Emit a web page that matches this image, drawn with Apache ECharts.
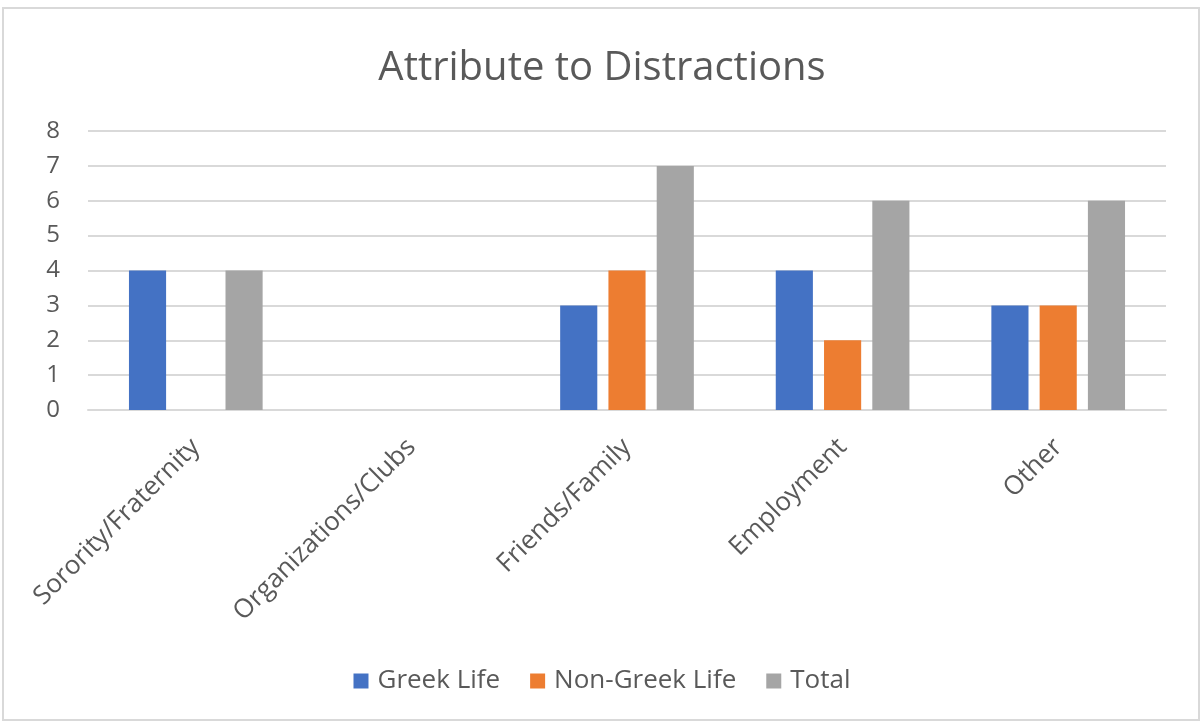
<!DOCTYPE html>
<html>
<head>
<meta charset="utf-8">
<script src="https://cdn.jsdelivr.net/npm/echarts@6/dist/echarts.min.js"></script>
<style>
  html, body { margin: 0; padding: 0; background: #fff; }
  #main { width: 1204px; height: 724px; }
</style>
</head>
<body>
<div id="main"></div>
<script>
var categories = ['Sorority/Fraternity', 'Organizations/Clubs', 'Friends/Family', 'Employment', 'Other'];
var greekLife = [4, 0, 3, 4, 3];
var nonGreekLife = [0, 0, 4, 2, 3];
var total = [4, 0, 7, 6, 6];
var yTicks = [0, 1, 2, 3, 4, 5, 6, 7, 8];

var textColor = '#595959';
var fontName = '"Open Sans", "Noto Sans", sans-serif';

var myChart = echarts.init(document.getElementById('main'));

var option = {
    backgroundColor: '#fff',
    textStyle: { fontFamily: fontName },
    title: {
        text: 'Attribute to Distractions',
        left: 'center',
        top: 44,
        textStyle: { color: textColor, fontSize: 40, fontWeight: 'normal', fontFamily: fontName }
    },
    graphic: [{
        type: 'rect',
        shape: { x: 3, y: 8, width: 1196, height: 712 },
        style: { fill: 'none', stroke: '#d9d9d9', lineWidth: 2 },
        silent: true
    }],
    legend: {
        data: ['Greek Life', 'Non-Greek Life', 'Total'],
        left: 'center',
        top: 663,
        itemWidth: 15,
        itemHeight: 15,
        itemGap: 30,
        icon: 'rect',
        textStyle: { color: textColor, fontSize: 26, fontFamily: fontName, padding: [0, 0, 0, 4] }
    },
    grid: { left: 88, right: 38, top: 131, bottom: 314 },
    xAxis: {
        type: 'category',
        data: categories,
        axisTick: { show: false },
        axisLine: { lineStyle: { color: '#d9d9d9', width: 2 } },
        axisLabel: {
            rotate: 45,
            interval: 0,
            margin: 33,
            color: textColor,
            fontSize: 26,
            fontFamily: fontName
        }
    },
    yAxis: {
        type: 'value',
        min: yTicks[0],
        max: yTicks[yTicks.length - 1],
        interval: 1,
        axisLine: { show: false },
        axisTick: { show: false },
        axisLabel: { color: textColor, fontSize: 24, margin: 28, fontFamily: fontName },
        splitLine: { lineStyle: { color: '#d9d9d9', width: 2 } }
    },
    series: [
        { name: 'Greek Life', type: 'bar', data: greekLife, itemStyle: { color: '#4472C4' }, barGap: '30%', barCategoryGap: '38%' },
        { name: 'Non-Greek Life', type: 'bar', data: nonGreekLife, itemStyle: { color: '#ED7D31' } },
        { name: 'Total', type: 'bar', data: total, itemStyle: { color: '#A5A5A5' } }
    ]
};

myChart.setOption(option);
</script>
</body>
</html>
